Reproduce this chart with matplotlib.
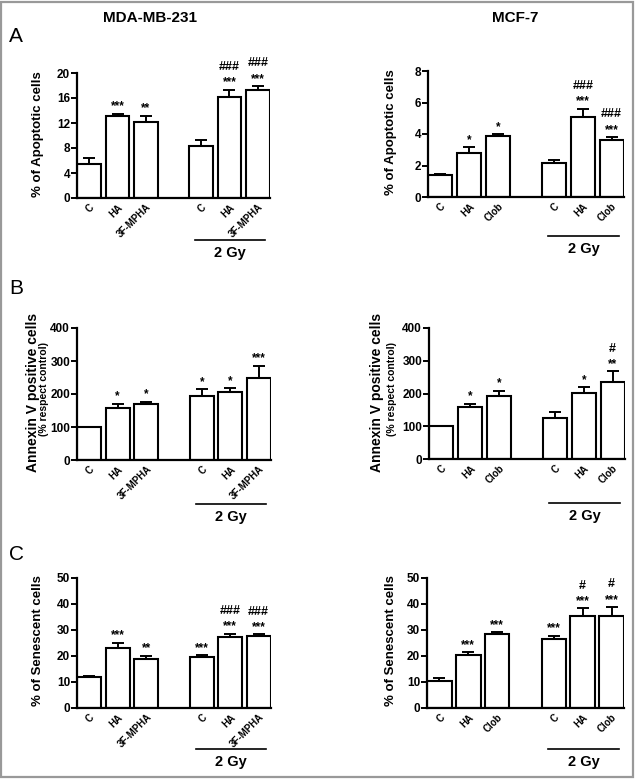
import numpy as np
import matplotlib.pyplot as plt
from matplotlib import transforms
from matplotlib.patches import Rectangle

plt.rcParams['font.family'] = ['Liberation Sans', 'DejaVu Sans']

# ---- data ----
labels_mda = ['C', 'HA', '3F-MPHA', 'C', 'HA', '3F-MPHA']
labels_mcf = ['C', 'HA', 'Clob', 'C', 'HA', 'Clob']

apo_mda = [5.4, 13.2, 12.2, 8.4, 16.2, 17.3]
apo_mda_err = [1.0, 0.3, 1.0, 0.9, 1.1, 0.6]
apo_mda_sig = ['', '***', '**', '', '***', '***']
apo_mda_hash = ['', '', '', '', '###', '###']

apo_mcf = [1.4, 2.8, 3.85, 2.15, 5.1, 3.65]
apo_mcf_err = [0.05, 0.35, 0.12, 0.2, 0.5, 0.15]
apo_mcf_sig = ['', '*', '*', '', '***', '***']
apo_mcf_hash = ['', '', '', '', '###', '###']

ann_mda = [100, 157, 170, 193, 205, 250]
ann_mda_err = [0, 14, 6, 22, 12, 35]
ann_mda_sig = ['', '*', '*', '*', '*', '***']
ann_mda_hash = ['', '', '', '', '', '']

ann_mcf = [100, 158, 192, 125, 201, 235]
ann_mcf_err = [0, 10, 17, 17, 18, 33]
ann_mcf_sig = ['', '*', '*', '', '*', '**']
ann_mcf_hash = ['', '', '', '', '', '#']

sen_mda = [12.0, 23.0, 19.0, 19.6, 27.5, 27.8]
sen_mda_err = [0.4, 2.0, 1.0, 0.6, 1.0, 0.5]
sen_mda_sig = ['', '***', '**', '***', '***', '***']
sen_mda_hash = ['', '', '', '', '###', '###']

sen_mcf = [10.5, 20.5, 28.5, 26.5, 35.5, 35.5]
sen_mcf_err = [1.0, 1.0, 0.7, 1.3, 2.8, 3.3]
sen_mcf_sig = ['', '***', '***', '***', '***', '***']
sen_mcf_hash = ['', '', '', '', '#', '#']

x = np.array([0, 1, 2, 3.95, 4.95, 5.95])
W, H = 636, 779

fig = plt.figure(figsize=(W / 100, H / 100), dpi=100)


def fx(px):
    return px / W


def fy(py):
    return 1 - py / H


def panel(rect, vals, errs, sig, hsh, labels, yticks, gy_line, gy_text):
    l, t, r, b = rect
    ax = fig.add_axes([fx(l), fy(b), fx(r - l), fy(t) - fy(b)])
    ax.bar(x, vals, width=0.84, color='white', edgecolor='black', linewidth=1.5, zorder=2)
    ax.errorbar(x, vals, yerr=[np.zeros(6), errs], fmt='none', ecolor='black',
                elinewidth=1.4, capsize=4, capthick=1.4, zorder=1)
    ax.set_xlim(-0.43, 6.38)
    ax.set_ylim(yticks[0], yticks[-1])
    ax.set_yticks(yticks)
    ax.set_xticks(x)
    ax.set_xticklabels(labels, rotation=45, ha='right', rotation_mode='anchor',
                       fontsize=7, fontweight='bold')
    for lab in ax.get_yticklabels():
        lab.set_fontweight('bold')
    ax.tick_params(axis='y', labelsize=8.5, width=1.4, length=4, pad=1)
    ax.tick_params(axis='x', length=0, pad=3)
    for s in ['top', 'right']:
        ax.spines[s].set_visible(False)
    for s in ['left', 'bottom']:
        ax.spines[s].set_linewidth(1.6)
    for xi, v, e, s, h in zip(x, vals, errs, sig, hsh):
        top = v + e
        if s:
            ax.annotate(s, (xi, top), xytext=(0, 1), textcoords='offset points',
                        ha='center', va='bottom', fontsize=8.5, fontweight='bold')
        if h:
            ax.annotate(h, (xi, top), xytext=(0, 12), textcoords='offset points',
                        ha='center', va='bottom', fontsize=9, fontweight='bold')
    tr = transforms.blended_transform_factory(ax.transData, fig.transFigure)
    ax.plot([3.75, 6.2], [fy(gy_line)] * 2, color='black', lw=1.2,
            transform=tr, clip_on=False)
    ax.text(4.98, fy(gy_text), '2 Gy', transform=tr, ha='center', va='center',
            fontsize=10.5, fontweight='bold')
    return ax


panel((77, 73, 270, 198), apo_mda, apo_mda_err, apo_mda_sig, apo_mda_hash,
      labels_mda, [0, 4, 8, 12, 16, 20], 240, 253)
panel((428, 71, 624, 197), apo_mcf, apo_mcf_err, apo_mcf_sig, apo_mcf_hash,
      labels_mcf, [0, 2, 4, 6, 8], 236, 249)
panel((77, 328, 271, 460), ann_mda, ann_mda_err, ann_mda_sig, ann_mda_hash,
      labels_mda, [0, 100, 200, 300, 400], 504, 517)
panel((429, 328, 625, 459), ann_mcf, ann_mcf_err, ann_mcf_sig, ann_mcf_hash,
      labels_mcf, [0, 100, 200, 300, 400], 503, 516)
panel((77, 578, 271, 708), sen_mda, sen_mda_err, sen_mda_sig, sen_mda_hash,
      labels_mda, [0, 10, 20, 30, 40, 50], 749, 762)
panel((427, 578, 624, 708), sen_mcf, sen_mcf_err, sen_mcf_sig, sen_mcf_hash,
      labels_mcf, [0, 10, 20, 30, 40, 50], 749, 762)

# y labels
fig.text(fx(38), fy(134), '% of Apoptotic cells', rotation=90, ha='center', va='center',
         fontsize=9.5, fontweight='bold')
fig.text(fx(391), fy(132), '% of Apoptotic cells', rotation=90, ha='center', va='center',
         fontsize=9.5, fontweight='bold')
fig.text(fx(33), fy(392), 'Annexin V positive cells', rotation=90, ha='center', va='center',
         fontsize=10, fontweight='bold')
fig.text(fx(44), fy(389), '(% respect control)', rotation=90, ha='center', va='center',
         fontsize=7.5, fontweight='bold')
fig.text(fx(377), fy(392), 'Annexin V positive cells', rotation=90, ha='center', va='center',
         fontsize=10, fontweight='bold')
fig.text(fx(392), fy(389), '(% respect control)', rotation=90, ha='center', va='center',
         fontsize=7.5, fontweight='bold')
fig.text(fx(38), fy(641), '% of Senescent cells', rotation=90, ha='center', va='center',
         fontsize=9.5, fontweight='bold')
fig.text(fx(391), fy(641), '% of Senescent cells', rotation=90, ha='center', va='center',
         fontsize=9.5, fontweight='bold')

# titles and panel letters
fig.text(fx(150), fy(18), 'MDA-MB-231', ha='center', va='center', fontsize=11, fontweight='bold')
fig.text(fx(515), fy(18), 'MCF-7', ha='center', va='center', fontsize=11, fontweight='bold')
fig.text(fx(9), fy(36), 'A', ha='left', va='center', fontsize=15)
fig.text(fx(9), fy(289), 'B', ha='left', va='center', fontsize=15)
fig.text(fx(9), fy(555), 'C', ha='left', va='center', fontsize=15)

# grey frame around the figure
fig.add_artist(Rectangle((0.002, 0.002), 0.994, 0.996, transform=fig.transFigure,
                         fill=False, edgecolor='#999999', lw=1.6))

fig.savefig('out.png', dpi=100)
